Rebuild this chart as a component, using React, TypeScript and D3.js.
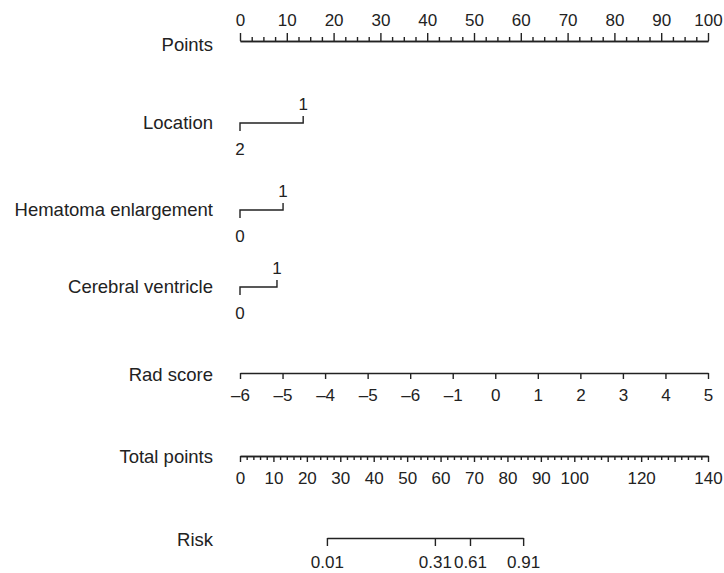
import React, { useRef, useEffect } from 'react';
import * as d3 from 'd3';

// points scale (top axis)
const pointTicks = [0, 10, 20, 30, 40, 50, 60, 70, 80, 90, 100];

// categorical predictors: level shown above the line first, then the one below
const catNames = ['Location', 'Hematoma enlargement', 'Cerebral ventricle'];
const catUpper = ['1', '1', '1'];
const catLower = ['2', '0', '0'];
const catUpperPoints = [13.5, 9.2, 7.9];
const catLowerPoints = [0, 0, 0];

// rad score (labels copied as printed)
const radValues = [-6, -5, -4, -3, -2, -1, 0, 1, 2, 3, 4, 5];
const radLabels = ['–6', '–5', '–4', '–5', '–6', '–1', '0', '1', '2', '3', '4', '5'];

// total points
const totalMajor = [0, 10, 20, 30, 40, 50, 60, 70, 80, 90, 100, 110, 120, 130, 140];
const totalLabels = [0, 10, 20, 30, 40, 50, 60, 70, 80, 90, 100, 120, 140];

// risk, placed on the total points scale
const riskLabels = ['0.01', '0.31', '0.61', '0.91'];
const riskTotal = [26, 58.3, 68.8, 84.7];

const App = () => {
    const chartRef = useRef<HTMLDivElement>(null);

    useEffect(() => {
        document.body.style.margin = '0';
        const width = 724;
        const height = 573;
        const left = 240;
        const right = 708;
        const labelX = 213;
        const font = '"Liberation Sans", Arial, sans-serif';
        const fs = 17;        // tick labels
        const labelFs = 18.5; // row names
        const ink = '#222';

        const x = d3.scaleLinear([0, 100], [left, right]);
        const xTotal = d3.scaleLinear([0, 140], [left, right]);
        const xRad = d3.scaleLinear([-6, 5], [left, right]);

        const rowY = {
            points: 41,
            cats: [123, 210, 287],
            rad: 373,
            total: 456,
            risk: 538,
        };

        const svg = d3.create('svg')
            .attr('viewBox', [0, 0, width, height])
            .attr('width', width)
            .attr('height', height)
            .attr('style', `display:block; font-family:${font}; background:#fff`);

        const styleAxis = (g: any) => {
            g.attr('font-family', font).attr('font-size', fs);
            g.selectAll('.tick text').attr('fill', ink);
            g.selectAll('line, path').attr('stroke', ink).attr('stroke-width', 1.4);
        };

        const rowLabel = (text: string, y: number) => {
            svg.append('text')
                .attr('x', labelX)
                .attr('y', y)
                .attr('dy', '0.35em')
                .attr('text-anchor', 'end')
                .attr('font-size', labelFs)
                .attr('fill', ink)
                .text(text);
        };

        // Points
        rowLabel('Points', rowY.points + 4);
        svg.append('g')
            .attr('transform', `translate(0,${rowY.points})`)
            .call(d3.axisTop(x).tickValues(d3.range(0, 100.01, 2.5).filter(v => v % 10 !== 0)).tickSize(4).tickSizeOuter(0).tickFormat(() => ''))
            .call(styleAxis);
        svg.append('g')
            .attr('transform', `translate(0,${rowY.points})`)
            .call(d3.axisTop(x).tickValues(pointTicks).tickSize(8).tickSizeOuter(0).tickPadding(7))
            .call(styleAxis);

        // categorical rows
        catNames.forEach((name, i) => {
            const y = rowY.cats[i];
            rowLabel(name, y);
            const x0 = x(catLowerPoints[i]);
            const x1 = x(catUpperPoints[i]);
            svg.append('path')
                .attr('d', `M${x0},${y + 8}V${y}H${x1}V${y - 7}`)
                .attr('fill', 'none')
                .attr('stroke', ink)
                .attr('stroke-width', 1.4);
            svg.append('text')
                .attr('x', x1)
                .attr('y', y - 13.5)
                .attr('text-anchor', 'middle')
                .attr('font-size', fs)
                .attr('fill', ink)
                .text(catUpper[i]);
            svg.append('text')
                .attr('x', x0)
                .attr('y', y + 31.5)
                .attr('text-anchor', 'middle')
                .attr('font-size', fs)
                .attr('fill', ink)
                .text(catLower[i]);
        });

        // Rad score
        rowLabel('Rad score', rowY.rad + 2);
        svg.append('g')
            .attr('transform', `translate(0,${rowY.rad})`)
            .call(d3.axisBottom(xRad).tickValues(radValues).tickSize(6).tickSizeOuter(0).tickPadding(10)
                .tickFormat((d: any) => radLabels[radValues.indexOf(d)]))
            .call(styleAxis);

        // Total points
        rowLabel('Total points', rowY.total + 1);
        svg.append('g')
            .attr('transform', `translate(0,${rowY.total})`)
            .call(d3.axisBottom(xTotal).tickValues(d3.range(0, 140.01, 2).filter(v => v % 10 !== 0)).tickSize(4).tickSizeOuter(0).tickFormat(() => ''))
            .call(styleAxis);
        svg.append('g')
            .attr('transform', `translate(0,${rowY.total})`)
            .call(d3.axisBottom(xTotal).tickValues(totalMajor).tickSize(6).tickSizeOuter(0).tickPadding(10)
                .tickFormat((d: any) => totalLabels.includes(d) ? String(d) : ''))
            .call(styleAxis);

        // Risk
        rowLabel('Risk', rowY.risk + 2);
        const riskScale = d3.scaleOrdinal(riskLabels, riskTotal.map(v => xTotal(v)));
        svg.append('g')
            .attr('transform', `translate(0,${rowY.risk})`)
            .call(d3.axisBottom(riskScale as any).tickSize(8).tickSizeOuter(0).tickPadding(10))
            .call(styleAxis);

        chartRef.current!.appendChild(svg.node()!);
        return () => {
            if (chartRef.current) chartRef.current.innerHTML = '';
        };
    }, []);

    return <div ref={chartRef}></div>;
};

export default App;
